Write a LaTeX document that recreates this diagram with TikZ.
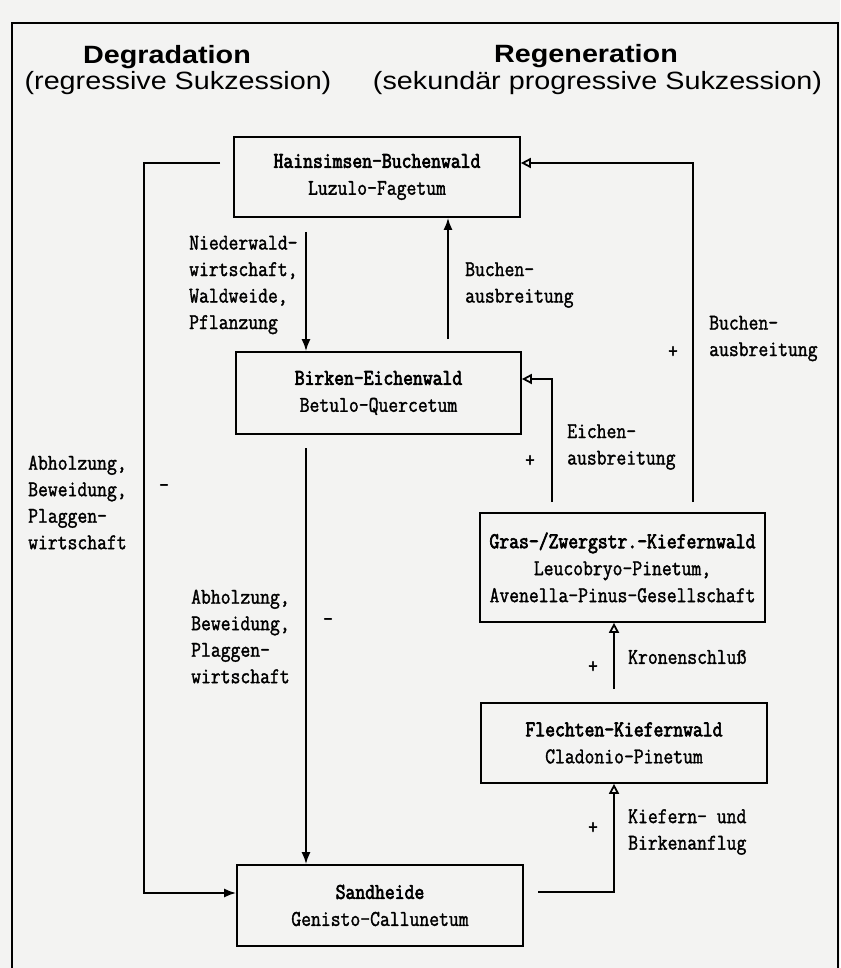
\documentclass[tikz,border=0pt]{standalone}
\usepackage{fontspec}
\usetikzlibrary{arrows.meta}
\newfontfamily\hdfont[FakeStretch=1.15]{Liberation Sans}
\newfontfamily\twfont[FakeStretch=0.85,FakeBold=1.5]{Latin Modern Mono}
\newfontfamily\twbold[FakeStretch=0.85,FakeBold=3]{Latin Modern Mono}
\definecolor{paper}{HTML}{F3F3F2}
\begin{document}
\begin{tikzpicture}[x=1pt,y=-1pt,
  box/.style={draw, line width=1.7pt, minimum width=286pt, minimum height=80pt, align=center,
    inner sep=0pt, font={\twfont\fontsize{22.5}{27}\selectfont}},
  lbl/.style={anchor=west, align=left, inner sep=0pt, font={\twfont\fontsize{22.5}{26.5}\selectfont}},
  sign/.style={inner sep=0pt, font={\twfont\fontsize{22.5}{26.5}\selectfont}},
  head/.style={anchor=base, inner sep=0pt, font={\hdfont\fontsize{25}{30}\selectfont}},
  fa/.style={line width=1.9pt, -{Latex[length=12pt,width=9pt]}},
  oa/.style={line width=1.8pt, -{Triangle[open,length=10pt,width=10pt,line width=1.8pt]}}]
\useasboundingbox (0,0) rectangle (840,968);
\fill[paper] (0,0) rectangle (840,968);
\draw[line width=1.4pt] (12,968) -- (12,23) -- (838,23) -- (838,968);

% headers
\node[head] (hdeg) at (167,64) {\bfseries Degradation};
\node[head] (hdeg2) at (178,90) {(regressive Sukzession)};
\node[head] (hreg) at (586,63) {\bfseries Regeneration};
\node[head] (hreg2) at (597.5,90) {(sekundär progressive Sukzession)};

% boxes
\node[box] (hain) at (377,177) {{\twbold Hainsimsen-Buchenwald}\\Luzulo-Fagetum};
\node[box, minimum width=285pt, minimum height=82pt] (birk) at (378.5,393) {{\twbold Birken-Eichenwald}\\Betulo-Quercetum};
\node[box, minimum width=285pt, minimum height=109pt] (gras) at (622.5,567.5) {{\twbold Gras-/Zwergstr.-Kiefernwald}\\Leucobryo-Pinetum,\\Avenella-Pinus-Gesellschaft};
\node[box] (flech) at (624,743) {{\twbold Flechten-Kiefernwald}\\Cladonio-Pinetum};
\node[box, minimum height=81pt] (sand) at (380,905.5) {{\twbold Sandheide}\\Genisto-Callunetum};

% degradation loop
\coordinate (l1) at (220,163);
\coordinate (l2) at (144,163);
\coordinate (l3) at (144,893);
\draw[fa] (l1) -- (l2) -- (l3) -- (sand.west |- l3);

% Hainsimsen -> Birken
\coordinate (n1) at (306,232);
\draw[fa] (n1) -- (birk.north -| n1);
% Buchenausbreitung up
\coordinate (b1) at (448,339);
\draw[fa] (b1) -- (hain.south -| b1);
% Birken -> Sandheide
\coordinate (d1) at (306,448);
\draw[fa] (d1) -- (sand.north -| d1);

% Gras -> Birken
\coordinate (e1) at (552,502);
\coordinate (e2) at (552,379);
\draw[oa] (e1) -- (e2) -- (birk.east |- e2);
% Gras -> Hainsimsen
\coordinate (r1) at (693,502);
\coordinate (r2) at (693,163);
\draw[oa] (r1) -- (r2) -- (hain.east |- r2);
% Flechten -> Gras
\coordinate (k1) at (614,689);
\draw[oa] (k1) -- (gras.south -| k1);
% Sandheide -> Flechten
\coordinate (s1) at (538,892);
\coordinate (s2) at (614,892);
\draw[oa] (s1) -- (s2) -- (flech.south -| s2);

% labels
\node[lbl] (t1) at (189,285) {Niederwald-\\wirtschaft,\\Waldweide,\\Pflanzung};
\node[lbl] (t2) at (465,285) {Buchen-\\ausbreitung};
\node[lbl] (t3) at (709,338.5) {Buchen-\\ausbreitung};
\node[sign] (p3) at (673,352) {+};
\node[lbl] (t4) at (567,447) {Eichen-\\ausbreitung};
\node[sign] (p4) at (530,461) {+};
\node[lbl] (t5) at (28,502.5) {Abholzung,\\Beweidung,\\Plaggen-\\wirtschaft};
\node[sign] (m5) at (164,488) {-};
\node[lbl] (t6) at (191,636.5) {Abholzung,\\Beweidung,\\Plaggen-\\wirtschaft};
\node[sign] (m6) at (328,622) {-};
\node[lbl] (t7) at (628,657) {Kronenschluß};
\node[sign] (p7) at (593,667) {+};
\node[lbl] (t8) at (628,832) {Kiefern- und\\Birkenanflug};
\node[sign] (p8) at (593,828) {+};
\end{tikzpicture}
\end{document}
